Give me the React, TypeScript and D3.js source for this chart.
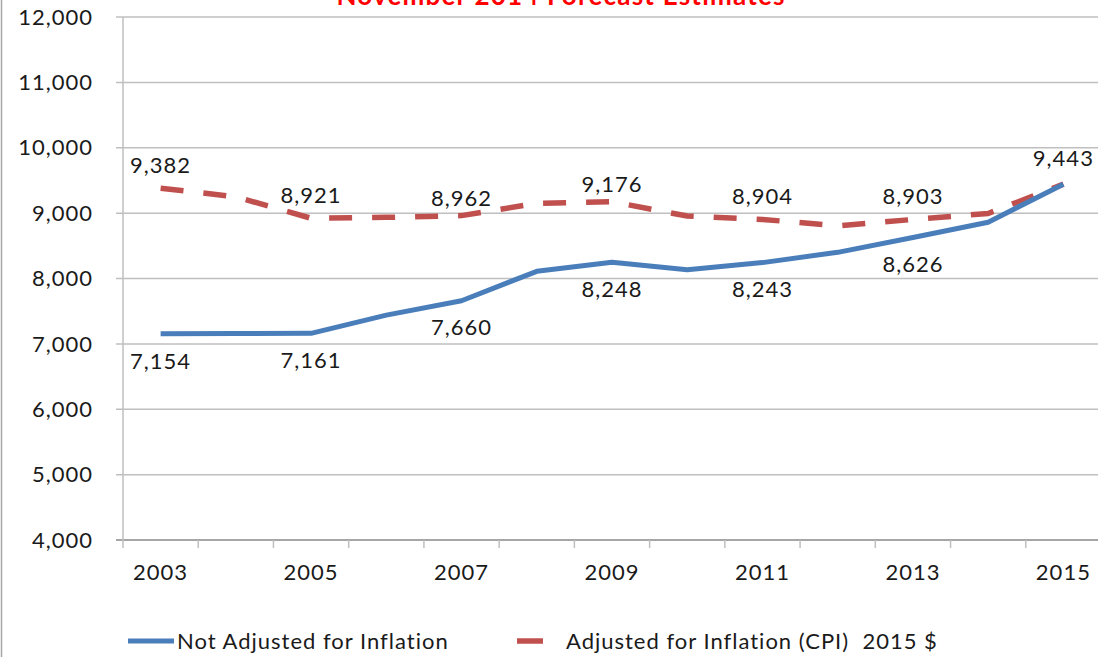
import React, { useEffect, useRef } from 'react'
import * as d3 from 'd3'

// Nov 2014 forecast, per-pupil style series
const years = [2003, 2004, 2005, 2006, 2007, 2008, 2009, 2010, 2011, 2012, 2013, 2014, 2015]
const notAdjusted = [7154, 7158, 7161, 7440, 7660, 8110, 8248, 8135, 8243, 8400, 8626, 8860, 9443]
const adjusted = [9382, 9250, 8921, 8935, 8962, 9150, 9176, 8955, 8904, 8805, 8903, 8995, 9443]
const labeledBlue = [2003, 2005, 2007, 2009, 2011, 2013, 2015]
const labeledRed = [2003, 2005, 2007, 2009, 2011, 2013]
const tickYears = [2003, 2005, 2007, 2009, 2011, 2013, 2015]
const yTicks = [4000, 5000, 6000, 7000, 8000, 9000, 10000, 11000, 12000]

const W = 1098
const H = 657
const FONT = 'Lato, "Open Sans", sans-serif'
const BLUE = '#4a7ebb'
const RED = '#c0504d'
const GRID = '#bfbfbf'
const INK = '#1a1a1a'

export default function App() {
  const ref = useRef<SVGSVGElement>(null)

  useEffect(() => {
    const svg = d3.select(ref.current)
    svg.selectAll('*').remove()

    let left = 123
    let top = 17
    let bottom = 540

    var x = d3.scaleBand<number>().domain(years).range([left, 1101]).padding(0)
    var y = d3.scaleLinear().domain([4000, 12000]).range([bottom, top])
    const cx = (yr: number) => (x(yr) as number) + x.bandwidth() / 2
    const fmt = d3.format(',')

    const txt = (px: number, py: number, s: string, anchor = 'middle') =>
      svg.append('text')
        .attr('x', px).attr('y', py).attr('dy', '0.35em')
        .attr('text-anchor', anchor)
        .attr('font-family', FONT).attr('font-size', 22)
        .attr('letter-spacing', 1).attr('fill', INK)
        .text(s)

    svg.append('rect').attr('width', W).attr('height', H).attr('fill', 'white')
    // frame edge on the left
    svg.append('line').attr('x1', 1.5).attr('x2', 1.5).attr('y1', 0).attr('y2', H)
      .attr('stroke', '#a6a6a6').attr('stroke-width', 1.5)

    // title (cut off at the top of the picture, as in the source)
    svg.append('text')
      .attr('x', 561).attr('y', 5)
      .attr('text-anchor', 'middle')
      .attr('font-family', FONT).attr('font-weight', 'bold').attr('font-size', 26)
      .attr('letter-spacing', 1.2)
      .attr('fill', '#ff0000')
      .text('November 2014 Forecast Estimates')

    // gridlines + y labels
    yTicks.forEach(function (t) {
      svg.append('line')
        .attr('x1', left - 7).attr('x2', W)
        .attr('y1', y(t)).attr('y2', y(t))
        .attr('stroke', t === 4000 ? '#a6a6a6' : GRID)
        .attr('stroke-width', t === 4000 ? 2 : 1.5)
      txt(93, y(t), fmt(t), 'end')
    })
    svg.append('line')
      .attr('x1', left).attr('x2', left).attr('y1', top).attr('y2', bottom)
      .attr('stroke', GRID).attr('stroke-width', 1.5)

    // x ticks between categories
    years.concat([2016]).forEach(function (yr, i) {
      const px = left + i * x.bandwidth()
      svg.append('line')
        .attr('x1', px).attr('x2', px).attr('y1', bottom).attr('y2', bottom + 8)
        .attr('stroke', GRID).attr('stroke-width', 1.5)
    })
    tickYears.forEach(function (yr) {
      txt(cx(yr), 572, String(yr))
    })

    const line = d3.line<number>()
      .x((d, i) => cx(years[i]))
      .y(d => y(d))

    svg.append('path').datum(adjusted)
      .attr('d', line)
      .attr('fill', 'none').attr('stroke', RED).attr('stroke-width', 5.5)
      .attr('stroke-dasharray', '23 20').attr('stroke-linejoin', 'round')

    svg.append('path').datum(notAdjusted)
      .attr('d', line)
      .attr('fill', 'none').attr('stroke', BLUE).attr('stroke-width', 5)
      .attr('stroke-linejoin', 'round')

    // data labels (2007 and 2009 sit a little closer to the line in the original)
    labeledRed.forEach(function (yr) {
      const v = adjusted[years.indexOf(yr)]
      const off = yr === 2007 || yr === 2009 ? -17 : -23
      txt(cx(yr), y(v) + off, fmt(v))
    })
    labeledBlue.forEach(function (yr, i) {
      const v = notAdjusted[years.indexOf(yr)]
      const last = i === labeledBlue.length - 1
      txt(cx(yr), y(v) + (last ? -26 : 27), fmt(v))
    })

    // legend
    const ly = 641
    svg.append('line').attr('x1', 128).attr('x2', 174).attr('y1', ly).attr('y2', ly)
      .attr('stroke', BLUE).attr('stroke-width', 5)
    txt(177, ly, 'Not Adjusted for Inflation', 'start')
    svg.append('line').attr('x1', 517).attr('x2', 543).attr('y1', ly).attr('y2', ly)
      .attr('stroke', RED).attr('stroke-width', 5.5)
    txt(566, ly, 'Adjusted for Inflation (CPI)\u00a0 2015 $', 'start')
  }, [])

  return (
    <svg ref={ref} width={W} height={H}
      style={{ position: 'absolute', left: 0, top: 0, display: 'block' }} />
  )
}
